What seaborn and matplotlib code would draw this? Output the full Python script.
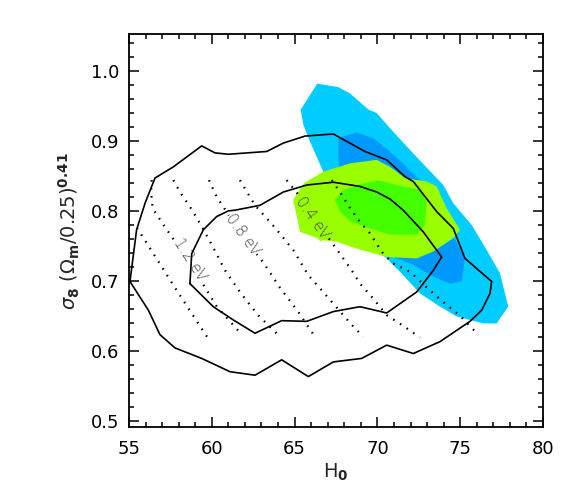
import numpy as np
import pandas as pd
import matplotlib
matplotlib.use('Agg')
import matplotlib.pyplot as plt
import seaborn as sns
from matplotlib.ticker import MultipleLocator

# Filled confidence regions (H0, sigma8*(Om/0.25)^0.41)
cyan_h = [65.37, 66.37, 67.64, 68.35, 69.45, 69.96, 70.96, 72.37, 73.98, 74.58, 75.69, 76.60,
          77.40, 77.90, 77.20, 76.39, 74.79, 73.78, 72.57, 71.36, 70.56, 68.35, 66.64, 65.93, 65.53]
cyan_s = [0.945, 0.982, 0.977, 0.968, 0.945, 0.940, 0.913, 0.877, 0.837, 0.811, 0.780, 0.744,
          0.711, 0.663, 0.639, 0.639, 0.649, 0.663, 0.682, 0.713, 0.732, 0.773, 0.861, 0.899, 0.923]

blue_h = [67.64, 68.75, 69.75, 70.76, 71.97, 73.18, 74.38, 75.29, 75.09, 74.38, 73.18, 72.17,
          71.17, 69.55, 68.04, 67.64]
blue_s = [0.904, 0.912, 0.904, 0.885, 0.858, 0.830, 0.773, 0.732, 0.699, 0.696, 0.708, 0.723,
          0.732, 0.758, 0.816, 0.873]

lime_h = [64.92, 65.53, 66.73, 68.35, 69.96, 70.76, 71.67, 72.98, 73.58, 74.18, 74.99, 74.58,
          73.38, 72.37, 70.56, 68.75, 67.54, 66.73, 65.33]
lime_s = [0.816, 0.839, 0.856, 0.868, 0.873, 0.863, 0.847, 0.842, 0.835, 0.804, 0.773, 0.761,
          0.742, 0.732, 0.734, 0.746, 0.756, 0.758, 0.770]

green_h = [67.44, 67.94, 68.95, 70.05, 71.17, 72.57, 72.98, 72.87, 72.37, 70.76, 69.55, 68.35, 67.74]
green_s = [0.816, 0.830, 0.838, 0.844, 0.837, 0.830, 0.813, 0.780, 0.766, 0.766, 0.775, 0.785, 0.799]

# solid contours
outer_h = [55.06, 55.46, 55.97, 56.57, 57.68, 59.39, 60.19, 61.00, 63.32, 64.32, 65.63, 67.34,
           69.25, 70.56, 71.67, 72.17, 73.58, 74.58, 75.29, 76.90, 76.80, 76.30, 75.59, 73.78,
           72.17, 70.56, 69.05, 67.34, 65.83, 64.22, 62.61, 61.10, 59.39, 57.78, 56.87, 56.17, 55.06]
outer_s = [0.699, 0.773, 0.811, 0.847, 0.863, 0.893, 0.883, 0.881, 0.885, 0.897, 0.907, 0.910,
           0.885, 0.873, 0.849, 0.842, 0.799, 0.775, 0.732, 0.699, 0.682, 0.658, 0.642, 0.613,
           0.596, 0.608, 0.589, 0.584, 0.563, 0.587, 0.565, 0.570, 0.589, 0.604, 0.623, 0.658, 0.699]

inner_h = [58.68, 58.79, 59.49, 60.30, 61.00, 61.40, 62.91, 64.32, 65.73, 67.34, 68.95, 69.96,
           70.76, 71.56, 72.77, 73.88, 73.38, 72.37, 70.56, 68.95, 67.34, 65.73, 64.22, 62.61,
           61.30, 60.09, 58.68]
inner_s = [0.696, 0.739, 0.773, 0.792, 0.800, 0.801, 0.808, 0.827, 0.837, 0.841, 0.835, 0.827,
           0.817, 0.801, 0.770, 0.734, 0.715, 0.684, 0.654, 0.663, 0.656, 0.642, 0.643, 0.625,
           0.644, 0.663, 0.696]

# dotted lines of constant neutrino mass
nu14_h = [55.48, 57.78, 59.71]
nu14_s = [0.776, 0.690, 0.620]
nu12_h = [56.37, 56.33, 56.43, 56.69, 57.17, 58.56, 60.31, 61.81]
nu12_s = [0.844, 0.827, 0.804, 0.794, 0.777, 0.730, 0.663, 0.623]
nu10_h = [57.68, 58.08, 58.68, 59.29, 60.01, 60.80, 61.70, 62.79, 64.12]
nu10_s = [0.844, 0.827, 0.806, 0.782, 0.751, 0.715, 0.684, 0.651, 0.620]
nu08_h = [59.83, 60.30, 60.69, 61.76, 63.09, 64.12, 65.21, 66.23]
nu08_s = [0.844, 0.820, 0.806, 0.766, 0.727, 0.690, 0.656, 0.620]
nu06_h = [61.70, 62.00, 62.61, 63.82, 64.92, 65.83, 66.73, 67.64, 68.45, 69.15]
nu06_s = [0.844, 0.832, 0.808, 0.776, 0.744, 0.708, 0.684, 0.659, 0.637, 0.620]
nu04_h = [64.52, 65.14, 66.23, 67.64, 68.45, 68.95, 69.66, 70.56, 71.47, 72.57]
nu04_s = [0.844, 0.826, 0.788, 0.742, 0.715, 0.696, 0.677, 0.651, 0.637, 0.619]
nu02_h = [67.24, 67.74, 68.35, 68.95, 69.55, 70.28, 70.94, 71.97, 73.00, 73.96, 74.99, 76.01]
nu02_s = [0.844, 0.827, 0.804, 0.784, 0.768, 0.741, 0.725, 0.713, 0.690, 0.670, 0.650, 0.625]

label_text = ['1.2 eV', '0.8 eV', '0.4 eV']
label_h = [58.68, 61.88, 66.10]
label_s = [0.730, 0.766, 0.790]
label_rot = [-57, -54, -55]
label_bg = ['white', 'white', '#99ff00']

sns.set_style('ticks')
plt.rcParams['font.family'] = ['DejaVu Sans']

fig = plt.figure(figsize=(5.81, 4.98), dpi=100)
ax = fig.add_axes([0.222, 0.142, 0.7126, 0.789])

ax.fill(cyan_h, cyan_s, color='#00ccff', lw=0, zorder=1)
ax.fill(blue_h, blue_s, color='#0099ff', lw=0, zorder=1.1)
ax.fill(lime_h, lime_s, color='#99ff00', lw=0, zorder=1.2)
ax.fill(green_h, green_s, color='#44ff00', lw=0, zorder=1.3)

dotted = [(nu14_h, nu14_s), (nu12_h, nu12_s), (nu10_h, nu10_s), (nu08_h, nu08_s),
          (nu06_h, nu06_s), (nu04_h, nu04_s), (nu02_h, nu02_s)]
for hh, ss in dotted:
    sns.lineplot(x=hh, y=ss, sort=False, estimator=None, ax=ax, color='black',
                 linewidth=1.6, linestyle=(0, (0.7, 2.9)), zorder=2)

for t, h, s, r, bg in zip(label_text, label_h, label_s, label_rot, label_bg):
    ax.text(h, s, t, rotation=r, ha='center', va='center', fontsize=11, color='#4a4a4a',
            fontweight='light', rotation_mode='anchor', zorder=3,
            bbox=dict(facecolor=bg, edgecolor='none', pad=0.0))

for hh, ss in [(outer_h, outer_s), (inner_h, inner_s)]:
    sns.lineplot(x=hh, y=ss, sort=False, estimator=None, ax=ax, color='black',
                 linewidth=1.2, zorder=4)

ax.set_xlim(55, 80)
ax.set_ylim(0.4905, 1.0525)
ax.xaxis.set_major_locator(MultipleLocator(5))
ax.xaxis.set_minor_locator(MultipleLocator(1))
ax.yaxis.set_major_locator(MultipleLocator(0.1))
ax.yaxis.set_minor_locator(MultipleLocator(0.02))
ax.yaxis.set_major_formatter(matplotlib.ticker.FormatStrFormatter('%.1f'))
ax.tick_params(which='both', direction='in', top=True, right=True, width=1.1, labelsize=13,
               color='black', labelcolor='black')
ax.tick_params(which='major', length=7)
ax.tick_params(axis='x', which='major', pad=9)
ax.tick_params(axis='y', which='major', pad=7)
ax.tick_params(which='minor', length=3.5)
for sp in ax.spines.values():
    sp.set_linewidth(1.3)
    sp.set_color('black')

ax.set_xlabel(r'H$_\mathbf{0}$', fontsize=14, labelpad=3)
ax.set_ylabel(r'$\sigma_\mathbf{8}\ (\Omega_\mathbf{m}/0.25)^{\mathbf{0.41}}$', fontsize=14, labelpad=6)

fig.savefig('out.png', dpi=100, facecolor='white')
